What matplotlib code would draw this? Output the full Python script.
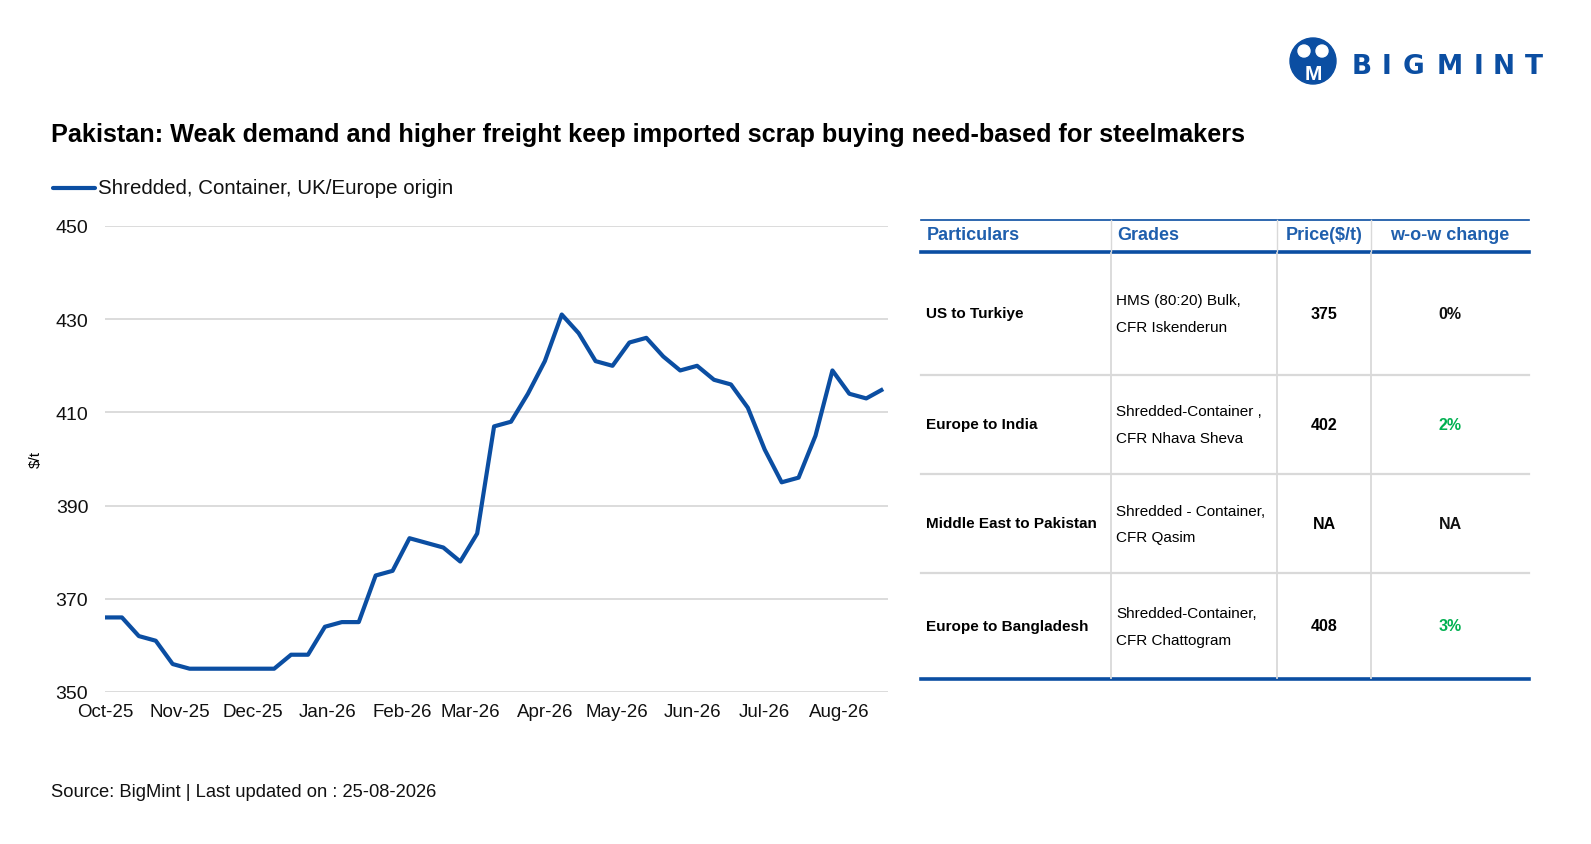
import matplotlib
matplotlib.use("Agg")
import matplotlib.pyplot as plt
import matplotlib.dates as mdates
from matplotlib.patches import Circle
import pandas as pd

plt.rcParams['font.family'] = ['Liberation Sans', 'DejaVu Sans']

BLUE = '#0b4ea2'
HEAD_BLUE = '#1f5fad'
GREEN = '#00b050'
GRID = '#d9d9d9'

# weekly price series, $/t
start_date = '2025-10-01'
prices = [366, 366, 362, 361, 356, 355, 355, 355, 355, 355, 355, 358, 358, 364, 365, 365,
          375, 376, 383, 382, 381, 378, 384, 407, 408, 414, 421, 431, 427, 421, 420, 425,
          426, 422, 419, 420, 417, 416, 411, 402, 395, 396, 405, 419, 414, 413, 415]
series_name = 'Shredded, Container, UK/Europe origin'

# side table
tbl_header = ['Particulars', 'Grades', 'Price($/t)', 'w-o-w change']
tbl_routes = ['US to Turkiye', 'Europe to India', 'Middle East to Pakistan', 'Europe to Bangladesh']
tbl_grades = [['HMS (80:20) Bulk,', 'CFR Iskenderun'],
              ['Shredded-Container ,', 'CFR Nhava Sheva'],
              ['Shredded - Container,', 'CFR Qasim'],
              ['Shredded-Container,', 'CFR Chattogram']]
tbl_price = ['375', '402', 'NA', '408']
tbl_change = ['0%', '2%', 'NA', '3%']

dates = pd.date_range(start_date, periods=len(prices), freq='7D')

W, H = 1591, 845
fig = plt.figure(figsize=(W / 100, H / 100), dpi=100)

# ---- line chart ----
ax = fig.add_axes([105 / W, 1 - 693 / H, (888 - 105) / W, (693 - 227) / H])
ax.plot(dates, prices, color=BLUE, lw=3.0, solid_capstyle='butt', zorder=3)
ax.set_ylim(350, 450)
ax.set_yticks(range(350, 451, 20))
ax.set_xlim(pd.Timestamp(start_date), dates[-1] + pd.Timedelta(days=2))
ax.xaxis.set_major_locator(mdates.MonthLocator())
ax.xaxis.set_major_formatter(mdates.DateFormatter('%b-%y'))
ax.grid(axis='y', color=GRID, lw=1.3)
ax.set_axisbelow(True)
for s in ax.spines.values():
    s.set_visible(False)
ax.tick_params(axis='both', length=0, labelsize=13.5, colors='#111111')
ax.tick_params(axis='y', pad=12, labelsize=14)
ax.tick_params(axis='x', pad=8)
ax.set_ylabel('$/t', fontsize=11, labelpad=9)

# ---- overlay in pixel coords for title, legend, table, logo ----
ov = fig.add_axes([0, 0, 1, 1], zorder=-1)
ov.set_xlim(0, W)
ov.set_ylim(H, 0)
ov.axis('off')

ov.text(51, 135, 'Pakistan: Weak demand and higher freight keep imported scrap buying need-based for steelmakers',
        fontsize=18.2, fontweight='bold', va='center', ha='left')
ov.plot([53, 95], [189, 189], color=BLUE, lw=3.0, solid_capstyle='round')
ov.text(98, 189, series_name, fontsize=14.8, va='center', ha='left', color='#111111')
ov.text(51, 793, 'Source: BigMint | Last updated on : 25-08-2026', fontsize=13.2, va='center', ha='left',
        color='#111111')

# table
tx0, tx1 = 921, 1529
col_x = [921, 1111, 1277, 1371, 1529]
row_y = [253, 376, 475, 574, 680]

ov.plot([tx0, tx1], [221, 221], color=BLUE, lw=1.2)
ov.plot([tx0, tx1], [row_y[0], row_y[0]], color=BLUE, lw=2.6)
ov.plot([tx0, tx1], [row_y[-1], row_y[-1]], color=BLUE, lw=2.6)
for y in row_y[1:-1]:
    ov.plot([tx0, tx1], [y, y], color=GRID, lw=1.6)
for x in col_x[1:-1]:
    ov.plot([x, x], [row_y[0] + 1, row_y[-1] - 1], color=GRID, lw=1.3)
    ov.plot([x, x], [221, row_y[0] - 1], color=GRID, lw=1.0)

hy = 236
ov.text(927, hy, tbl_header[0], fontsize=13, fontweight='bold', color=HEAD_BLUE, va='center', ha='left')
ov.text(1117, hy, tbl_header[1], fontsize=13, fontweight='bold', color=HEAD_BLUE, va='center', ha='left')
ov.text(1324, hy, tbl_header[2], fontsize=13, fontweight='bold', color=HEAD_BLUE, va='center', ha='center')
ov.text(1450, hy, tbl_header[3], fontsize=13, fontweight='bold', color=HEAD_BLUE, va='center', ha='center')

for i in range(len(tbl_routes)):
    yc = (row_y[i] + row_y[i + 1]) / 2
    ov.text(926, yc, tbl_routes[i], fontsize=11, fontweight='bold', va='center', ha='left')
    ov.text(1116, yc - 13, tbl_grades[i][0], fontsize=11, va='center', ha='left')
    ov.text(1116, yc + 14, tbl_grades[i][1], fontsize=11, va='center', ha='left')
    ov.text(1324, yc, tbl_price[i], fontsize=11.5, fontweight='bold', va='center', ha='center')
    c = GREEN if tbl_change[i] not in ('0%', 'NA') else '#111111'
    ov.text(1450, yc, tbl_change[i], fontsize=11.5, fontweight='bold', va='center', ha='center', color=c)

# logo
ov.add_patch(Circle((1313, 62), 23, color=BLUE))
ov.add_patch(Circle((1304, 52), 6, color='white'))
ov.add_patch(Circle((1322, 52), 6, color='white'))
ov.text(1313, 74, 'M', fontsize=15, fontweight='bold', color='white', ha='center', va='center')
logo_cx = [1362, 1386, 1413, 1450, 1479, 1504, 1534]
for ch, cx in zip('BIGMINT', logo_cx):
    ov.text(cx, 67, ch, fontsize=19, fontweight='bold', color=BLUE, ha='center', va='center',
            family=['DejaVu Sans'])

fig.savefig('out.png', dpi=100)
